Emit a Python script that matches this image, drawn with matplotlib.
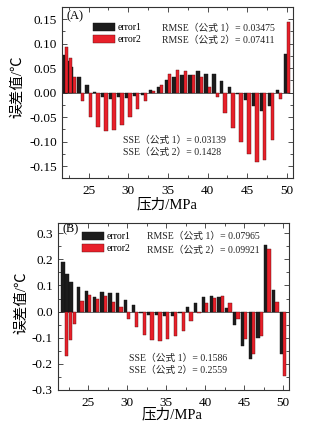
import numpy as np
import matplotlib
matplotlib.use('Agg')
import matplotlib.pyplot as plt
from matplotlib.ticker import MultipleLocator, FormatStrFormatter
from matplotlib.patches import Patch

plt.rcParams['font.family'] = ['Liberation Serif', 'Noto Sans CJK SC']
plt.rcParams['axes.unicode_minus'] = False

# 压力 (MPa)
pressure = [22, 22.5, 23, 24, 25, 26, 27, 28, 29, 30, 31, 32, 33, 34, 35,
            36, 37, 38, 39, 40, 41, 42, 43, 44, 45, 46, 47, 48, 49, 50]

# (A) 误差值
a_error1 = [0.076, 0.065, 0.052, 0.031, 0.016, 0.001, -0.008, -0.012, -0.008, -0.010,
            -0.007, -0.005, 0.0055, 0.011, 0.026, 0.0325, 0.0366, 0.0354, 0.0435, 0.039,
            0.038, 0.023, 0.011, -0.002, -0.015, -0.028, -0.037, -0.027, 0.0055, 0.078]
a_error2 = [0.0935, 0.0705, 0.0325, -0.018, -0.049, -0.0705, -0.079, -0.0765, -0.066, -0.0495,
            -0.033, -0.018, 0.003, 0.0155, 0.038, 0.0455, 0.0447, 0.0355, 0.0325, 0.011,
            -0.008, -0.042, -0.0725, -0.1015, -0.125, -0.1415, -0.137, -0.0975, -0.012, 0.1445]

# (B) 误差值
b_error1 = [0.19, 0.145, 0.115, 0.094, 0.079, 0.054, 0.075, 0.070, 0.070, 0.044,
            0.025, -0.005, -0.013, -0.015, -0.016, -0.016, -0.005, 0.019, 0.033, 0.056,
            0.060, 0.054, 0.015, -0.052, -0.13, -0.18, -0.10, 0.256, 0.084, -0.161]
b_error2 = [-0.170, -0.109, -0.046, 0.040, 0.064, 0.047, 0.058, 0.035, 0.0165, -0.028,
            -0.059, -0.090, -0.108, -0.113, -0.105, -0.095, -0.075, -0.037, -0.007, 0.033,
            0.053, 0.058, 0.031, -0.030, -0.106, -0.161, -0.094, 0.240, 0.038, -0.248]

a_rmse = ['RMSE（公式 1）= 0.03475', 'RMSE（公式 2）= 0.07411']
a_sse = ['SSE（公式 1）= 0.03139', 'SSE（公式 2）= 0.1428']
b_rmse = ['RMSE（公式 1）= 0.07965', 'RMSE（公式 2）= 0.09921']
b_sse = ['SSE（公式 1）= 0.1586', 'SSE（公式 2）= 0.2559']

BLACK = '#1c1c1c'
RED = '#e8202a'
W = 0.42

fig = plt.figure(figsize=(3.15, 4.26), dpi=100)
W_PX, H_PX = 315, 426


def px_axes(l, r, t, b):
    return fig.add_axes([l / W_PX, 1 - b / H_PX, (r - l) / W_PX, (b - t) / H_PX])


def draw_panel(ax, e1, e2, ylim, ymaj, ymin, yfmt, tag, leg_xy, rmse_xy, sse_xy,
               xlim, xlab_xy, ylab_xy):
    x = np.array(pressure)
    ax.axhline(0, color='#555555', lw=0.6, zorder=1)
    ax.bar(x - W / 2, e1, width=W, color=BLACK, edgecolor='#111111', lw=0.3, zorder=2)
    ax.bar(x + W / 2, e2, width=W, color=RED, edgecolor='#5a1010', lw=0.3, zorder=3)
    ax.set_xlim(*xlim)
    ax.set_ylim(*ylim)
    ax.xaxis.set_major_locator(MultipleLocator(5))
    ax.xaxis.set_minor_locator(MultipleLocator(2.5))
    ax.yaxis.set_major_locator(MultipleLocator(ymaj))
    ax.yaxis.set_minor_locator(MultipleLocator(ymin))
    ax.yaxis.set_major_formatter(FormatStrFormatter(yfmt))
    ax.tick_params(which='both', direction='in', top=True, right=True,
                   labelsize=9.5, color='#333333', width=0.6)
    ax.tick_params(which='major', length=3.5, pad=3.5)
    ax.tick_params(axis='x', which='major', pad=5)
    ax.tick_params(which='minor', length=2)
    for s in ax.spines.values():
        s.set_linewidth(0.8)
        s.set_color('#333333')
    ax.set_xlabel('压力/MPa', fontsize=10.5)
    ax.set_ylabel('误差值/℃', fontsize=10.5)
    ax.xaxis.set_label_coords(*xlab_xy)
    ax.yaxis.set_label_coords(*ylab_xy)
    ax.text(0.022, tag[1], tag[0], transform=ax.transAxes, fontsize=9, va='center')
    handles = [Patch(facecolor=BLACK, edgecolor='#111111', lw=0.3),
               Patch(facecolor=RED, edgecolor='#5a1010', lw=0.3)]
    ax.legend(handles, ['error1', 'error2'], loc='upper left', bbox_to_anchor=leg_xy,
              frameon=False, fontsize=7, handlelength=2.3, handleheight=0.95,
              labelspacing=0.25, handletextpad=0.25, borderpad=0, borderaxespad=0)
    for i, s in enumerate(rmse_xy[2]):
        ax.text(rmse_xy[0], rmse_xy[1][i], s, transform=ax.transAxes, fontsize=7,
                va='center', color='#222222')
    for i, s in enumerate(sse_xy[2]):
        ax.text(sse_xy[0], sse_xy[1][i], s, transform=ax.transAxes, fontsize=7,
                va='center', color='#222222')


ax1 = px_axes(61.7, 293.3, 7, 178.3)
draw_panel(ax1, a_error1, a_error2, (-0.175, 0.175), 0.05, 0.025, '%.2f',
           ('(A)', 0.945), (0.135, 0.908),
           (0.433, [0.876, 0.803], a_rmse), (0.265, [0.2195, 0.149], a_sse),
           (21.62, 50.8), (0.455, -0.112), (-0.163, 0.533))

ax2 = px_axes(57.7, 289.3, 222.7, 390)
draw_panel(ax2, b_error1, b_error2, (-0.3, 0.34), 0.1, 0.05, '%.1f',
           ('(B)', 0.96), (0.105, 0.946),
           (0.386, [0.916, 0.837], b_rmse), (0.308, [0.189, 0.115], b_sse),
           (21.1, 50.8), (0.495, -0.105), (-0.128, 0.52))

fig.savefig('out.png', dpi=100)
